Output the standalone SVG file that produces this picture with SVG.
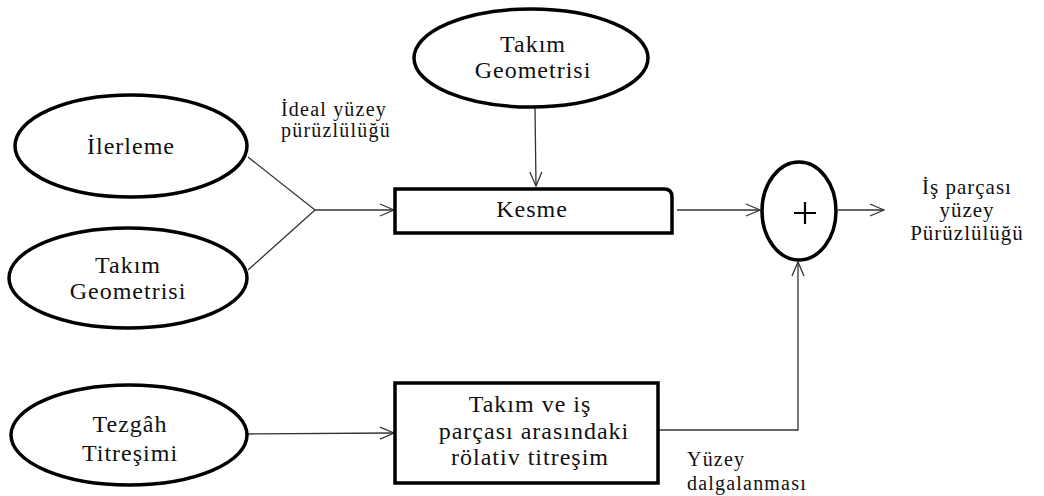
<svg xmlns="http://www.w3.org/2000/svg" width="1044" height="496" viewBox="0 0 1044 496">
<style>
.node{fill:#fff;stroke:#000;stroke-width:3.5}
.t{font-family:"Liberation Serif","Times New Roman",serif;font-size:24px;letter-spacing:1px;fill:#111;text-anchor:middle}
.s{font-family:"Liberation Serif","Times New Roman",serif;font-size:20px;letter-spacing:1.2px;fill:#111}
.o{font-size:21px}
.c{fill:none;stroke:#333;stroke-width:1.3}
</style>
<defs>
<marker id="a" markerWidth="16" markerHeight="14" refX="15" refY="7" orient="auto" markerUnits="userSpaceOnUse">
<path d="M1,1 L15,7 L1,13" fill="none" stroke="#333" stroke-width="1.3"/>
</marker>
</defs>
<rect width="1044" height="496" fill="#fff"/>
<g id="connectors">
<path class="c" d="M248,157 L315,210 L248,270"/>
<path class="c" d="M315,210 L394,210" marker-end="url(#a)"/>
<path class="c" d="M535,107 L536,186" marker-end="url(#a)"/>
<path class="c" d="M677,210 L760,210" marker-end="url(#a)"/>
<path class="c" d="M838,210 L884,210" marker-end="url(#a)"/>
<path class="c" d="M248,434 L394,433" marker-end="url(#a)"/>
<path class="c" d="M658,430 L798,430 L798,262" marker-end="url(#a)"/>
</g>
<g id="n_takim_top">
<ellipse class="node" cx="531" cy="58" rx="117" ry="49"/>
<text class="t" x="533" y="52">Takım</text>
<text class="t" x="533" y="78">Geometrisi</text>
</g>
<g id="n_ilerleme">
<ellipse class="node" cx="131" cy="146" rx="116" ry="51"/>
<text class="t" x="131" y="154">İlerleme</text>
</g>
<g id="n_takim_left">
<ellipse class="node" cx="128" cy="278" rx="119" ry="50"/>
<text class="t" x="128" y="273">Takım</text>
<text class="t" x="128" y="299">Geometrisi</text>
</g>
<g id="n_tezgah">
<ellipse class="node" cx="129" cy="435" rx="118" ry="50"/>
<text class="t" x="130" y="432">Tezgâh</text>
<text class="t" x="130" y="461">Titreşimi</text>
</g>
<g id="n_kesme">
<path class="node" d="M395,189 L664,189 Q672,189 672,197 L672,233 L395,233 Z"/>
<text class="t" x="532" y="217">Kesme</text>
</g>
<g id="n_rolativ">
<rect class="node" x="395" y="383" width="263" height="100"/>
<text class="t" x="530" y="412">Takım ve iş</text>
<text class="t" x="534" y="439">parçası arasındaki</text>
<text class="t" x="530" y="465">rölativ titreşim</text>
</g>
<g id="n_sum">
<ellipse class="node" cx="799" cy="211" rx="37" ry="49"/>
<path d="M794,213 L816,213 M805,202 L805,224" stroke="#000" stroke-width="2.2" fill="none"/>
</g>
<g id="labels">
<text class="s" x="281" y="116">İdeal yüzey</text>
<text class="s" x="281" y="137">pürüzlülüğü</text>
<text class="t o" x="967" y="194">İş parçası</text>
<text class="t o" x="967" y="217">yüzey</text>
<text class="t o" x="967" y="240">Pürüzlülüğü</text>
<text class="s" x="687" y="466">Yüzey</text>
<text class="s" x="687" y="490">dalgalanması</text>
</g>
</svg>
